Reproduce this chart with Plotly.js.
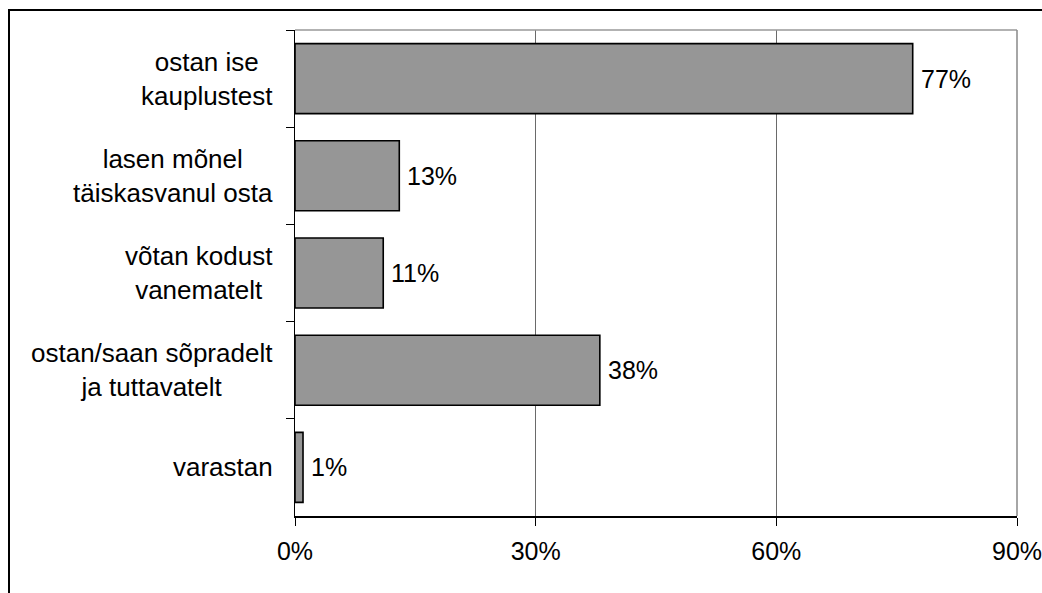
<!DOCTYPE html>
<html><head><meta charset="utf-8">
<script src="https://cdn.plot.ly/plotly-3.0.1.min.js"></script>
<style>
html,body{margin:0;padding:0;overflow:hidden;background:#fff;}
#wrap{position:relative;width:1042px;height:593px;}
#chart{position:absolute;left:0;top:0;width:1042px;height:593px;}
#frame{position:absolute;left:8px;top:9px;width:2000px;height:2000px;border:2px solid #000;pointer-events:none;}
</style></head>
<body><div id="wrap"><div id="chart"></div><div id="frame"></div></div>
<script>
const categories = ["ostan ise<br>kauplustest", "lasen mõnel<br>täiskasvanul osta", "võtan kodust<br>vanematelt", "ostan/saan sõpradelt<br>ja tuttavatelt", "varastan"];
const values = [77, 13, 11, 38, 1];
const xTicks = [0, 30, 60, 90];
const xTickLabels = ["0%", "30%", "60%", "90%"];

const FONT = "Arial, 'Liberation Sans', sans-serif";

const annotations = [];
categories.forEach((c, i) => {
  annotations.push({
    xref: 'paper', yref: 'y', x: 0, y: c, xanchor: 'right', yanchor: 'middle',
    xshift: -20, text: c, showarrow: false, align: 'center',
    font: {family: FONT, size: 26, color: '#000'}
  });
  annotations.push({
    xref: 'x', yref: 'y', x: values[i], y: c, xanchor: 'left', yanchor: 'middle',
    xshift: 6, text: values[i] + '%', showarrow: false,
    font: {family: FONT, size: 25, color: '#000'}
  });
});

const trace = {
  type: 'bar', orientation: 'h', x: values, y: categories,
  marker: {color: '#969696', line: {color: '#000', width: 1.6}},
  hoverinfo: 'none'
};

const layout = {
  width: 1042, height: 593,
  margin: {l: 295, r: 25, t: 30, b: 77},
  paper_bgcolor: '#fff', plot_bgcolor: '#fff',
  showlegend: false, bargap: 0.28,
  font: {family: FONT, size: 25, color: '#000'},
  xaxis: {
    range: [0, 90], tickvals: xTicks, ticktext: xTickLabels,
    ticklabeloverflow: 'allow', ticklabelstandoff: 4,
    showgrid: true, gridcolor: '#6a6a6a', gridwidth: 1,
    zeroline: false, showline: true, linecolor: '#000', linewidth: 1.5,
    ticks: 'outside', ticklen: 8, tickcolor: '#000', tickwidth: 1,
    tickfont: {family: FONT, size: 25, color: '#000'}, fixedrange: true
  },
  yaxis: {
    type: 'category', autorange: 'reversed', showticklabels: false,
    tickson: 'boundaries', ticks: 'outside', ticklen: 8, tickcolor: '#000',
    showgrid: false, zeroline: false, showline: true, linecolor: '#000', linewidth: 1.5,
    fixedrange: true
  },
  shapes: [
    {type: 'line', xref: 'paper', yref: 'paper', x0: 0, x1: 1, y0: 1, y1: 1, line: {color: '#999', width: 1.5}},
    {type: 'line', xref: 'paper', yref: 'paper', x0: 1, x1: 1, y0: 0, y1: 1, line: {color: '#888', width: 1.5}}
  ],
  annotations: annotations
};

Plotly.newPlot('chart', [trace], layout, {displayModeBar: false, staticPlot: true});
</script></body></html>
